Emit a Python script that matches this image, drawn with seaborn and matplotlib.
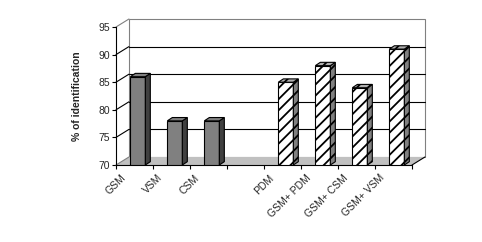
import numpy as np
import pandas as pd
import matplotlib
matplotlib.use("Agg")
import matplotlib.pyplot as plt
from matplotlib.patches import Polygon
from matplotlib.transforms import ScaledTranslation
import seaborn as sns

# ---- data ----
categories = ["GSM", "VSM", "CSM", " ", "PDM", "GSM+ PDM", "GSM+ CSM", "GSM+ VSM"]
methods = ["GSM", "VSM", "CSM", "PDM", "GSM+ PDM", "GSM+ CSM", "GSM+ VSM"]
values = [86, 78, 78, 85, 88, 84, 91]
groups = ["single", "single", "single", "combined", "combined", "combined", "combined"]
y_ticks = [70, 75, 80, 85, 90, 95]

df = pd.DataFrame({"method": methods, "value": values, "group": groups})

sns.set_style("white")
plt.rcParams["font.family"] = ["Liberation Sans", "DejaVu Sans"]
plt.rcParams["hatch.linewidth"] = 1.3

fig = plt.figure(figsize=(4.82, 2.42), dpi=100)
ax = fig.add_axes([116 / 482, 77 / 242, 296 / 482, 138 / 242])

ymin, ymax = 70, 95
nslots = len(categories)
DX, DY = 0.35, 1.45          # depth of the box (slot units, value units)
ddx, ddy = 0.135, 0.6        # depth of each bar
shift = 0.09                 # bars sit a bit back in the box

sns.barplot(data=df, x="method", y="value", hue="group", order=categories,
            hue_order=["single", "combined"],
            palette={"single": "#808080", "combined": "white"},
            dodge=False, width=0.405, edgecolor="black", linewidth=0.8,
            legend=False, ax=ax, zorder=3)

ax.set_xlim(-0.5, nslots - 0.5)
ax.set_ylim(ymin, ymax)
x0, x1 = -0.5, nslots - 0.5

# back wall
wall = Polygon([(x0 + DX, ymin + DY), (x1 + DX, ymin + DY), (x1 + DX, ymax + DY), (x0 + DX, ymax + DY)],
               closed=True, facecolor="white", edgecolor="#808080", linewidth=0.8,
               clip_on=False, zorder=0.1)
ax.add_patch(wall)
# back gridlines and side-wall diagonals
for yt in y_ticks[1:]:
    col = "#808080" if yt == ymax else "black"
    if yt != ymax:
        ax.plot([x0 + DX, x1 + DX], [yt + DY, yt + DY], color="black", lw=0.8,
                clip_on=False, zorder=0.2)
    ax.plot([x0, x0 + DX], [yt, yt + DY], color=col, lw=0.8, clip_on=False, zorder=0.2)
# floor
floor = Polygon([(x0, ymin), (x1, ymin), (x1 + DX, ymin + DY), (x0 + DX, ymin + DY)],
                closed=True, facecolor="#c0c0c0", edgecolor="none", clip_on=False, zorder=0.5)
ax.add_patch(floor)
ax.plot([x1, x1 + DX], [ymin, ymin + DY], color="black", lw=0.8, clip_on=False, zorder=0.6)
ax.plot([x0, x0 + DX], [ymin, ymin + DY], color="#808080", lw=0.8, clip_on=False, zorder=0.6)

# 3D faces for bars
for cont, grp in zip(ax.containers, ["single", "combined"]):
    for p in cont.patches:
        h = p.get_height()
        if not np.isfinite(h) or h <= 0:
            continue
        p.set_x(p.get_x() + shift)
        bx0 = p.get_x()
        bx1 = bx0 + p.get_width()
        if grp == "combined":
            p.set_hatch("///")
            side_fc, top_fc, hatch = "#808080", "#b0b0b0", "///"
        else:
            side_fc, top_fc, hatch = "#404040", "#808080", None
        side = Polygon([(bx1, ymin), (bx1 + ddx, ymin + ddy), (bx1 + ddx, h + ddy), (bx1, h)],
                       closed=True, facecolor=side_fc, edgecolor="black", linewidth=0.8,
                       hatch=hatch, zorder=3)
        top = Polygon([(bx0, h), (bx0 + ddx, h + ddy), (bx1 + ddx, h + ddy), (bx1, h)],
                      closed=True, facecolor=top_fc, edgecolor="black", linewidth=0.8,
                      hatch=hatch, zorder=3)
        ax.add_patch(side)
        ax.add_patch(top)

# axes styling
ax.patch.set_visible(False)
for s in ["top", "right"]:
    ax.spines[s].set_visible(False)
for s in ["left", "bottom"]:
    ax.spines[s].set_color("black")
    ax.spines[s].set_linewidth(0.8)
    ax.spines[s].set_zorder(5)

ax.set_yticks(y_ticks)
ax.set_yticklabels([str(v) for v in y_ticks])
ax.tick_params(axis="y", which="major", direction="out", length=3, width=0.8,
               color="black", pad=1.5, labelsize=7.5, left=True)

# slot boundaries as major ticks, labels at centers as minor
ax.set_xticks(np.arange(-0.5, nslots, 1.0))
ax.set_xticklabels([])
ax.set_xticks(np.arange(nslots), minor=True)
ax.set_xticklabels(categories, minor=True)
ax.tick_params(axis="x", which="major", direction="out", length=3, width=0.8,
               color="black", bottom=True)
ax.tick_params(axis="x", which="minor", length=0, pad=5.5, labelsize=7.5)
off = ScaledTranslation(-14 / 100, 0, fig.dpi_scale_trans)
for lab in ax.get_xticklabels(minor=True):
    lab.set_rotation(45)
    lab.set_ha("right")
    lab.set_va("top")
    lab.set_rotation_mode("anchor")
    lab.set_transform(lab.get_transform() + off)

ax.set_xlabel("")
ax.set_ylabel("% of identification", fontsize=7.5, fontweight="bold")
ax.yaxis.set_label_coords(-0.115, 0.5)

fig.savefig("out.png", dpi=100, facecolor="white")
